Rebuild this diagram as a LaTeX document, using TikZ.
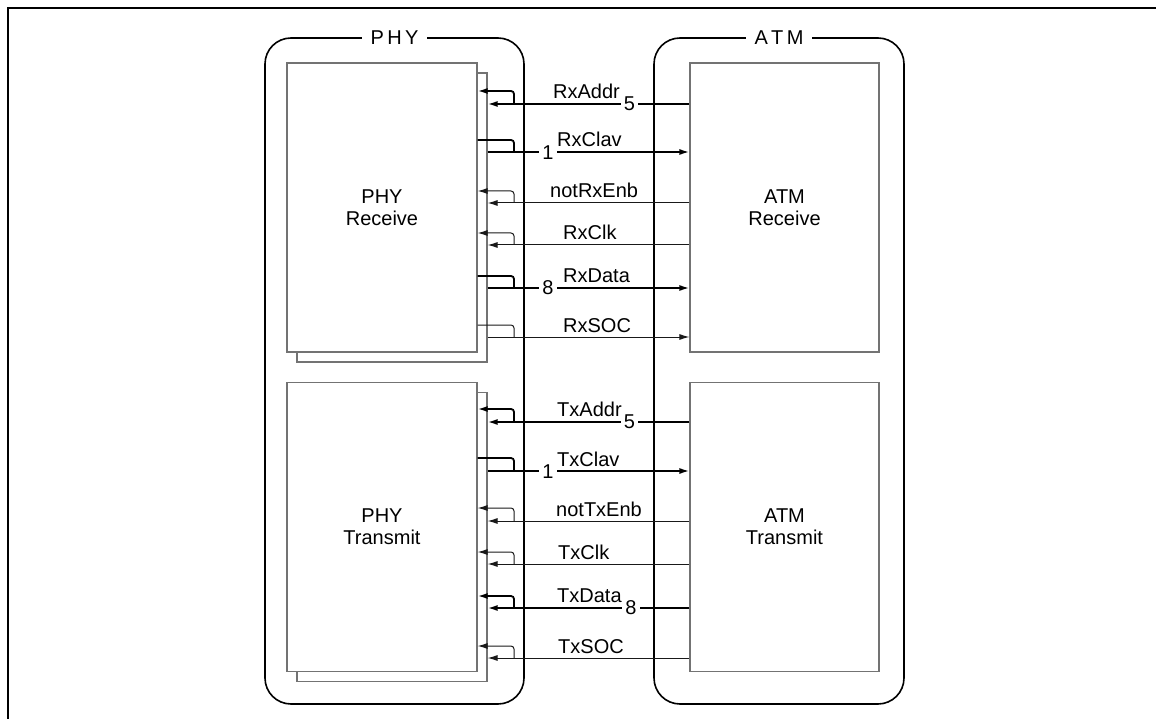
\documentclass[tikz,border=0pt]{standalone}
\usepackage{fontspec}
\setmainfont{Liberation Sans}
\usetikzlibrary{arrows.meta}

\begin{document}
\begin{tikzpicture}[x=1pt,y=-1pt,
  txt/.style={font=\fontsize{20}{22}\selectfont},
  lbl/.style={txt, inner sep=0pt, anchor=base west},
  num/.style={txt, fill=white, inner sep=3pt},
  grp/.style={line width=1.6pt, rounded corners=26pt},
  blk/.style={draw=black!55, line width=1.1pt, fill=white, minimum width=190pt, minimum height=289pt, align=center, txt},
  bus/.style={line width=1.8pt},
  wire/.style={line width=1pt, black!90},
  tip/.style={-{Latex[length=10pt,width=6pt]}}]
  % bounding box
  \useasboundingbox (0,0) rectangle (1156,719);
  % page frame
  \draw[line width=1.5pt] (8,719) -- (8,8) -- (1156,8);
  % groups
  \draw[grp] (265,38) rectangle (524,704);
  \draw[grp] (654,38) rectangle (904,704);
  \node[txt, fill=white, inner xsep=9pt, inner ysep=2pt] (phylbl) at (394.5,38) {P\,H\,Y};
  \node[txt, fill=white, inner xsep=9pt, inner ysep=2pt] (atmlbl) at (779,38) {A\,T\,M};
  % blocks
  \node[blk] (phyrxb) at (392,217.5) {};
  \node[blk] (phyrx) at (382,207.5) {PHY\\Receive};
  \node[blk] (phytxb) at (392,537) {};
  \node[blk] (phytx) at (382,527) {PHY\\Transmit};
  \node[blk, minimum width=189pt] (atmrx) at (784.5,207.5) {ATM\\Receive};
  \node[blk, minimum width=189pt] (atmtx) at (784.5,527) {ATM\\Transmit};
  % receive side
  \draw[bus,tip] (atmrx.west |- 0,104) -- (phyrxb.east |- 0,104);
  \draw[bus,tip,rounded corners=3pt] (514,104) |- (phyrx.east |- 0,91);
  \node[lbl] (rxaddr) at (553,98.5) {RxAddr};
  \node[num] (rxaddrn) at (629.5,104) {5};
  \draw[bus,tip] (phyrxb.east |- 0,152) -- (atmrx.west |- 0,152);
  \draw[bus,rounded corners=3pt] (phyrx.east |- 0,140) -| (514,152);
  \node[lbl] (rxclav) at (557,147) {RxClav};
  \node[num] (rxclavn) at (548,152.5) {1};
  \draw[wire,tip] (atmrx.west |- 0,203) -- (phyrxb.east |- 0,203);
  \draw[wire,tip,rounded corners=3pt] (514,203) |- (phyrx.east |- 0,191);
  \node[lbl] (notrxenb) at (550,198) {notRxEnb};
  \draw[wire,tip] (atmrx.west |- 0,245) -- (phyrxb.east |- 0,245);
  \draw[wire,tip,rounded corners=3pt] (514,245) |- (phyrx.east |- 0,233);
  \node[lbl] (rxclk) at (563,240) {RxClk};
  \draw[bus,tip] (phyrxb.east |- 0,288) -- (atmrx.west |- 0,288);
  \draw[bus,rounded corners=3pt] (phyrx.east |- 0,276) -| (514,288);
  \node[lbl] (rxdata) at (563,283) {RxData};
  \node[num] (rxdatan) at (548,288) {8};
  \draw[wire,tip] (phyrxb.east |- 0,337) -- (atmrx.west |- 0,337);
  \draw[wire,rounded corners=3pt] (phyrx.east |- 0,325) -| (514,337);
  \node[lbl] (rxsoc) at (563,332) {RxSOC};
  % transmit side
  \draw[bus,tip] (atmtx.west |- 0,422) -- (phytxb.east |- 0,422);
  \draw[bus,tip,rounded corners=3pt] (514,422) |- (phytx.east |- 0,409);
  \node[lbl] (txaddr) at (557,416) {TxAddr};
  \node[num] (txaddrn) at (629.5,422) {5};
  \draw[bus,tip] (phytxb.east |- 0,471) -- (atmtx.west |- 0,471);
  \draw[bus,rounded corners=3pt] (phytx.east |- 0,458) -| (514,471);
  \node[lbl] (txclav) at (557,466) {TxClav};
  \node[num] (txclavn) at (548,471.5) {1};
  \draw[wire,tip] (atmtx.west |- 0,521) -- (phytxb.east |- 0,521);
  \draw[wire,tip,rounded corners=3pt] (514,521) |- (phytx.east |- 0,508);
  \node[lbl] (nottxenb) at (556,516) {notTxEnb};
  \draw[wire,tip] (atmtx.west |- 0,564) -- (phytxb.east |- 0,564);
  \draw[wire,tip,rounded corners=3pt] (514,564) |- (phytx.east |- 0,552);
  \node[lbl] (txclk) at (558,559) {TxClk};
  \draw[bus,tip] (atmtx.west |- 0,608) -- (phytxb.east |- 0,608);
  \draw[bus,tip,rounded corners=3pt] (514,608) |- (phytx.east |- 0,596);
  \node[lbl] (txdata) at (557,602) {TxData};
  \node[num] (txdatan) at (631,608) {8};
  \draw[wire,tip] (atmtx.west |- 0,658) -- (phytxb.east |- 0,658);
  \draw[wire,tip,rounded corners=3pt] (514,658) |- (phytx.east |- 0,646);
  \node[lbl] (txsoc) at (558,653) {TxSOC};
\end{tikzpicture}
\end{document}
